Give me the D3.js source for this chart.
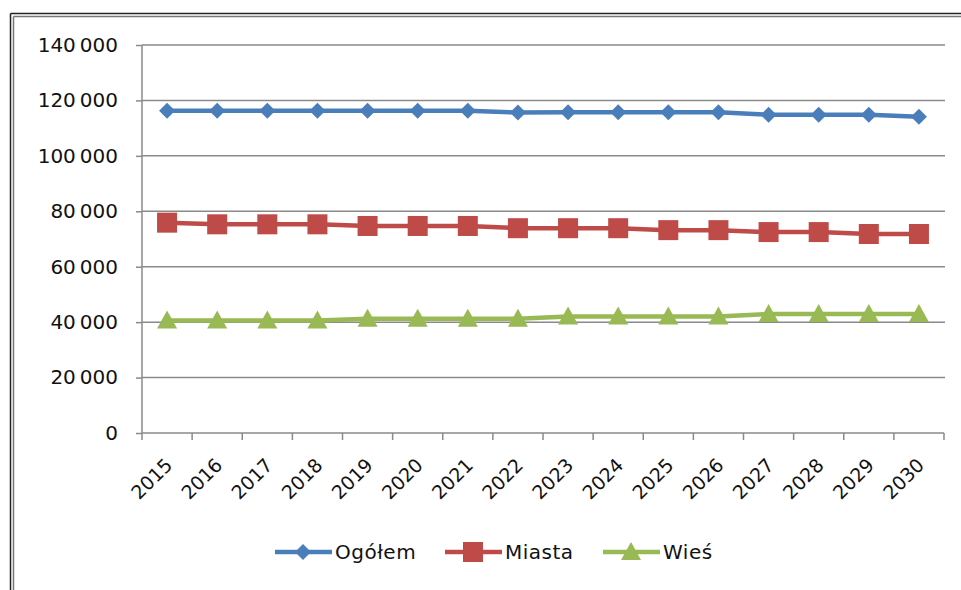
<!DOCTYPE html>
<html><head><meta charset="utf-8">
<script src="https://cdn.jsdelivr.net/npm/d3@7"></script>
<style>body{margin:0;background:#fff}svg{display:block}</style>
</head><body>
<svg id="c" width="961" height="590"></svg>
<script>
const years = ["2015","2016","2017","2018","2019","2020","2021","2022","2023","2024","2025","2026","2027","2028","2029","2030"];
const ogolem = [116300,116300,116300,116300,116300,116300,116300,115600,115700,115700,115700,115700,114800,114800,114800,114100];
const miasta = [75900,75300,75300,75300,74700,74700,74700,73900,73900,73900,73200,73200,72500,72500,71800,71800];
const wies = [40600,40600,40600,40600,41200,41200,41200,41200,42000,42000,42000,42000,42900,42900,42900,42900];
const seriesNames = ["Ogółem","Miasta","Wieś"];
const colors = ["#4A7EBB","#BE4B48","#98B954"];
const yTicks = [0,20000,40000,60000,80000,100000,120000,140000];

const svg = d3.select("#c");
const font = "DejaVu Sans, Verdana, sans-serif";

svg.append("rect").attr("x",0).attr("y",0).attr("width",961).attr("height",590).attr("fill","#fff");
[[10.5,13.5],[13.5,16.5]].forEach(([lx,ty],i)=>{
  svg.append("line").attr("x1",lx).attr("x2",961).attr("y1",ty).attr("y2",ty).attr("stroke",i?"#777":"#222").attr("stroke-width",1.5);
  svg.append("line").attr("x1",lx).attr("x2",lx).attr("y1",ty).attr("y2",590).attr("stroke",i?"#777":"#222").attr("stroke-width",1.5);
});

const x = d3.scaleBand().domain(years).range([142,944]);
const y = d3.scaleLinear().domain([0,140000]).range([433,45]);

svg.append("g").selectAll("line").data(yTicks.slice(1)).join("line")
  .attr("x1",142).attr("x2",945).attr("y1",d=>y(d)).attr("y2",d=>y(d))
  .attr("stroke","#8a8a8a").attr("stroke-width",1.5);

const ya = svg.append("g").attr("transform","translate(142,0)")
  .call(d3.axisLeft(y).tickValues(yTicks).tickSize(6).tickPadding(18)
    .tickFormat(d=>d3.format(",")(d).replace(/,/g,"\u2009")));
ya.select(".domain").attr("stroke","#8a8a8a").attr("stroke-width",1.5).attr("d","M0,"+y(140000)+"V"+y(0));
ya.selectAll(".tick line").attr("stroke","#8a8a8a").attr("stroke-width",1.5);
ya.selectAll("text").attr("font-family",font).attr("font-size",20).attr("fill","#111");

const xa = svg.append("g").attr("transform","translate(0,433)");
xa.append("line").attr("x1",142).attr("x2",944).attr("stroke","#8a8a8a").attr("stroke-width",1.5);
const edges = years.map(d=>x(d)).concat([x.range()[1]]);
xa.selectAll("line.tk").data(edges).join("line").attr("class","tk")
  .attr("x1",d=>d).attr("x2",d=>d).attr("y1",0).attr("y2",7)
  .attr("stroke","#8a8a8a").attr("stroke-width",1.5);
xa.selectAll("text").data(years).join("text")
  .attr("transform",d=>`translate(${x(d)+x.bandwidth()/2-3},${24}) rotate(-45)`)
  .attr("text-anchor","end").attr("dy","0.7em")
  .attr("font-family",font).attr("font-size",19).attr("fill","#111").text(d=>d);

const cx = d=>x(d)+x.bandwidth()/2;
const data = [ogolem,miasta,wies];
const line = d3.line().x((v,i)=>cx(years[i])).y(v=>y(v));

function marker(g,type,color){
  if(type===0) g.append("path").attr("d","M0,-8L8,0L0,8L-8,0Z").attr("fill",color);
  else if(type===1) g.append("rect").attr("x",-10).attr("y",-10).attr("width",20).attr("height",20).attr("fill",color);
  else g.append("path").attr("d","M0,-10L10,8L-10,8Z").attr("fill",color);
}

data.forEach((vals,si)=>{
  svg.append("path").datum(vals).attr("d",line).attr("fill","none")
    .attr("stroke",colors[si]).attr("stroke-width",4.5).attr("stroke-linejoin","round");
  vals.forEach((v,i)=>{
    const g = svg.append("g").attr("transform",`translate(${cx(years[i])},${y(v)})`);
    marker(g,si,colors[si]);
  });
});

const legX = [275,445,603];
seriesNames.forEach((n,si)=>{
  const g = svg.append("g").attr("transform",`translate(${legX[si]},552)`);
  g.append("line").attr("x1",0).attr("x2",57).attr("stroke",colors[si]).attr("stroke-width",4.5);
  const m = g.append("g").attr("transform","translate(28,0)");
  marker(m,si,colors[si]);
  g.append("text").attr("x",60).attr("y",0).attr("dy","0.36em")
    .attr("font-family",font).attr("font-size",20).attr("letter-spacing",0.5).attr("fill","#111").text(n);
});
</script>
</body></html>
